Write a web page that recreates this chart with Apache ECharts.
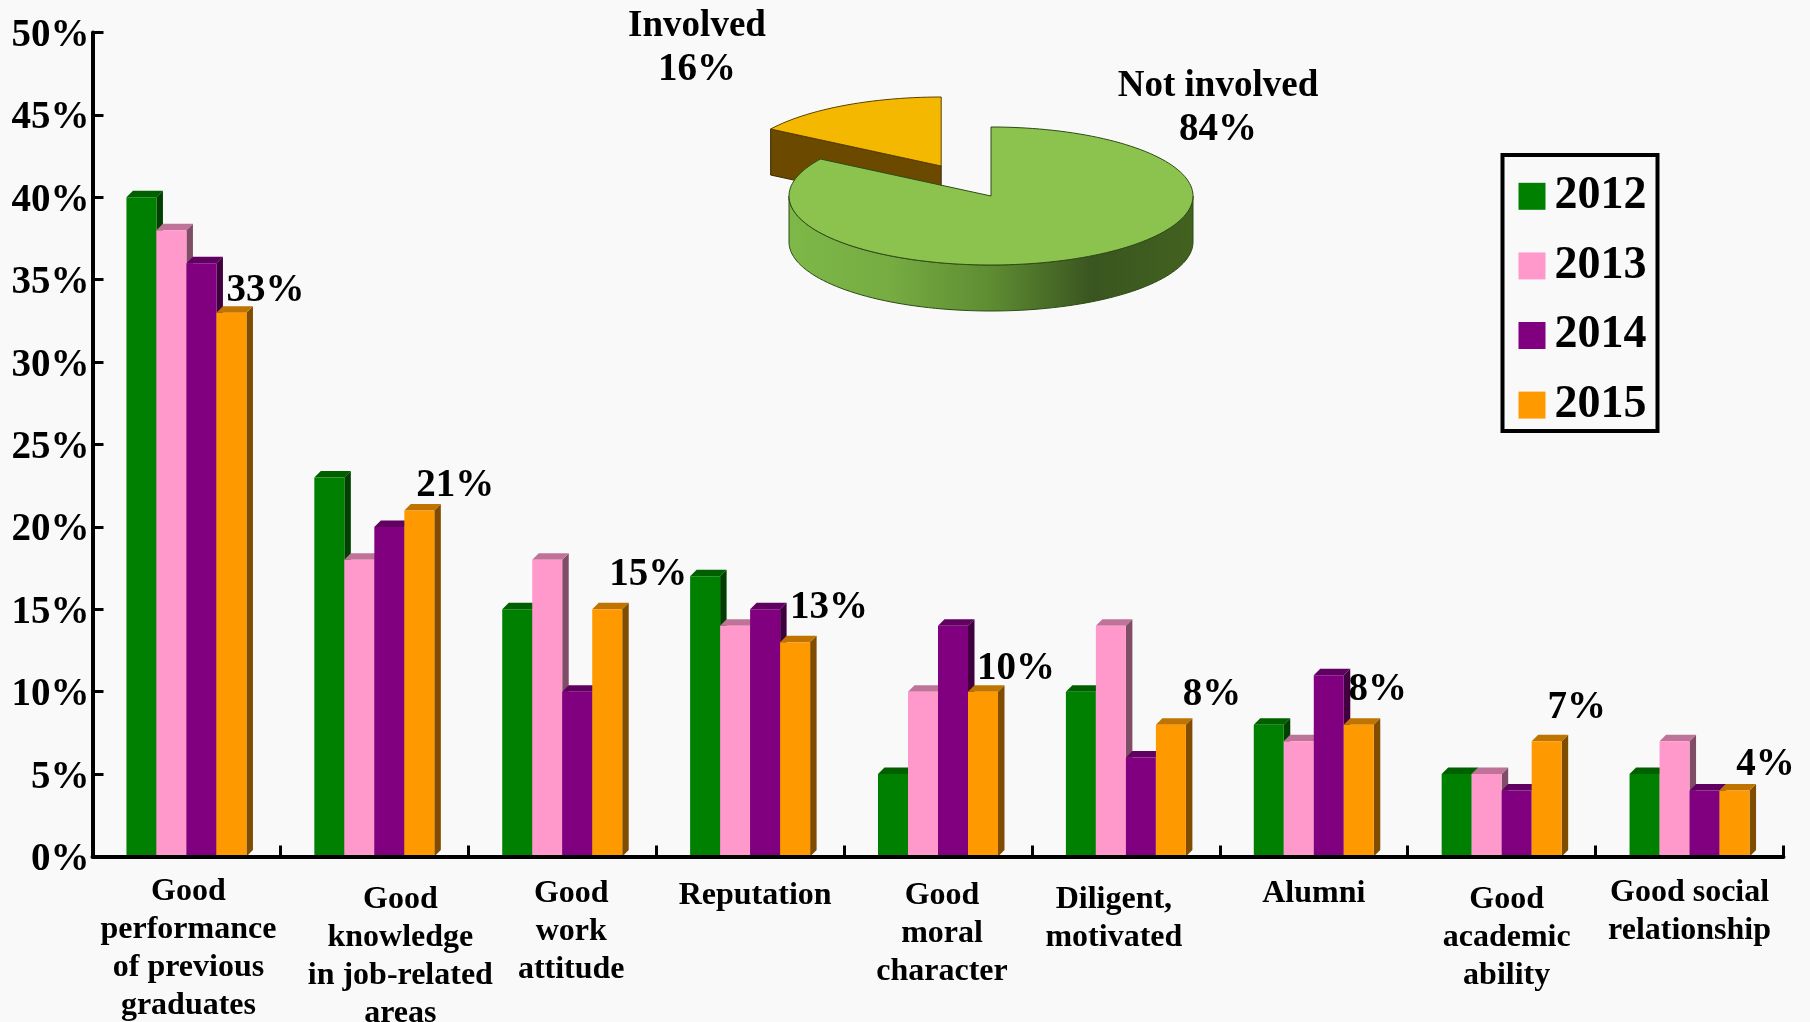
<!DOCTYPE html>
<html><head><meta charset="utf-8">
<style>html,body{margin:0;padding:0;background:#f9f9f9}#c{width:1810px;height:1022px}</style>
<script src="https://cdn.jsdelivr.net/npm/echarts@6/dist/echarts.min.js"></script>
</head><body><div id="c"></div>
<script>
const categories = ['Good\nperformance\nof previous\ngraduates','Good\nknowledge\nin job-related\nareas','Good\nwork\nattitude','Reputation','Good\nmoral\ncharacter','Diligent,\nmotivated','Alumni','Good\nacademic\nability','Good social\nrelationship'];
const years = ['2012','2013','2014','2015'];
const v2012 = [40,23,15,17,5,10,8,5,5];
const v2013 = [38,18,18,14,10,14,7,5,7];
const v2014 = [36,20,10,15,14,6,11,4,4];
const v2015 = [33,21,15,13,10,8,8,7,4];
const pieNames = ['Involved','Not involved'];
const pieValues = [16,84];

// styling / layout (not data)
const FONT = '"Liberation Serif","Times New Roman",serif';
const front = ['#008000','#FF99CC','#800080','#FF9900'];
const topCol = ['#006000','#BF7399','#600060','#BF7300'];
const sideCol = ['#004000','#804D66','#400040','#804D00'];
const BAR = 30, DEPTH = 6.5;
const catShiftX = [2,26,9,5,4,-12,0,5,0];
const catShiftY = [0,8,2,4,4,8,2,8,1];
const labelDX = [34,36,41,34,33,41,19,30,31];
const labelRise = [4,6,16,16,5,12,17,15,8];
const pieLayout = [
  {cx:941.2,cy:166,tx:697,ty:46,top:'#F5B800',cut:'#6B4A00'},
  {cx:991,cy:196,tx:1218,ty:106,top:'#8BC34E'}
];
const RX = 202, RY = 69, PD = 46;

const series = [];
const all = [v2012,v2013,v2014,v2015];
all.forEach((vals,s)=>{
  series.push({
    type:'custom', silent:true, z:1, clip:false,
    data: vals.map((v,i)=>[i,v]), encode:{x:0,y:1},
    renderItem:(p,api)=>{
      const t = api.coord([api.value(0),api.value(1)]);
      const b = api.coord([api.value(0),0]);
      const xl = t[0]+(s-2)*BAR, xr = xl+BAR, y=t[1], y0=b[1];
      return {type:'group',children:[
        {type:'polygon',shape:{points:[[xr,y],[xr+DEPTH,y-DEPTH],[xr+DEPTH,y0-DEPTH],[xr,y0]]},style:{fill:sideCol[s]}},
        {type:'polygon',shape:{points:[[xl,y],[xl+DEPTH,y-DEPTH],[xr+DEPTH,y-DEPTH],[xr,y]]},style:{fill:topCol[s]}}
      ]};
    }
  });
});
all.forEach((vals,s)=>{
  series.push({
    name:years[s], type:'bar', z:2, barWidth:BAR, barGap:0,
    itemStyle:{color:front[s]},
    data: vals.map((v,i)=> s===3 ? {value:v,label:{show:true,position:'top',distance:0,offset:[labelDX[i],-labelRise[i]],formatter:'{c}%',fontFamily:FONT,fontWeight:'bold',fontSize:39,color:'#000',lineHeight:36}} : v)
  });
});
const total = pieValues[0]+pieValues[1];
series.push({
  type:'custom', coordinateSystem:'none', silent:true, z:3,
  data: pieValues,
  renderItem:(p,api)=>{
    const i = p.dataIndex, L = pieLayout[i];
    const share = api.value(0)/total*360;
    const a0 = i===1 ? 0 : 360-share, a1 = i===1 ? share : 360;
    const pt=(deg,dy)=>{const r=deg*Math.PI/180;return [L.cx+RX*Math.sin(r),L.cy-RY*Math.cos(r)+(dy||0)];};
    const arc=(from,to,dy)=>{const o=[];const n=Math.max(2,Math.ceil(Math.abs(to-from)/2));for(let k=0;k<=n;k++)o.push(pt(from+(to-from)*k/n,dy));return o;};
    const kids=[];
    if(i===1){
      kids.push({type:'polygon',shape:{points:arc(90,270).concat(arc(270,90,PD))},
        style:{stroke:'#2f4a16',lineWidth:1,fill:{type:'linear',x:0,y:0,x2:1,y2:0,colorStops:[
          {offset:0,color:'#7DB848'},{offset:.25,color:'#76AC42'},{offset:.5,color:'#5E8C32'},{offset:.75,color:'#3A5520'},{offset:1,color:'#42621F'}]}}});
    } else {
      const e=pt(a0);
      kids.push({type:'polygon',shape:{points:[[L.cx,L.cy],e,[e[0],e[1]+PD],[L.cx,L.cy+PD]]},style:{fill:L.cut,stroke:'#3a2800',lineWidth:1}});
    }
    kids.push({type:'polygon',shape:{points:[[L.cx,L.cy]].concat(arc(a0,a1))},style:{fill:L.top,stroke:i===1?'#2f4a16':'#5a4000',lineWidth:1}});
    kids.push({type:'text',x:L.tx,y:L.ty+2,style:{text:'{n|'+pieNames[i]+'}\n{v|'+Math.round(api.value(0))+'%}',align:'center',verticalAlign:'middle',fontFamily:FONT,fontWeight:'bold',fill:'#000',
      rich:{n:{fontFamily:FONT,fontWeight:'bold',fontSize:37,lineHeight:44,fill:'#000'},v:{fontFamily:FONT,fontWeight:'bold',fontSize:39,lineHeight:44,fill:'#000'}}}});
    return {type:'group',children:kids};
  }
});

const chart = echarts.init(document.getElementById('c'),null,{renderer:'canvas'});
chart.setOption({
  animation:false,
  backgroundColor:'#f9f9f9',
  grid:{left:92.5,right:26.5,top:32.5,height:824,outerBoundsMode:'none'},
  legend:{
    data:years, orient:'vertical', left:1502.5, top:155,
    padding:[18.3,11,3,16], itemWidth:27, itemHeight:27, itemGap:23.6,
    borderColor:'#000', borderWidth:4, icon:'rect',
    textStyle:{fontFamily:FONT,fontWeight:'bold',fontSize:46,color:'#000',padding:[0,0,0,4]},
    selectedMode:false
  },
  xAxis:{
    type:'category', z:5,
    data:categories.map((c,i)=>({value:c,textStyle:{padding:[catShiftY[i],catShiftX[i]<0?-2*catShiftX[i]:0,0,catShiftX[i]>0?2*catShiftX[i]:0]}})),
    axisLine:{show:true,lineStyle:{color:'#000',width:4}},
    axisTick:{show:true,inside:true,length:11,lineStyle:{color:'#000',width:3}},
    axisLabel:{interval:0,margin:16,verticalAlign:'top',align:'center',fontFamily:FONT,fontWeight:'bold',fontSize:32,lineHeight:38,color:'#000'},
    splitLine:{show:false}
  },
  yAxis:{
    type:'value', min:0, max:50, interval:5, z:5,
    axisLine:{show:true,lineStyle:{color:'#000',width:4}},
    axisTick:{show:true,inside:true,length:11,lineStyle:{color:'#000',width:3}},
    axisLabel:{margin:3,formatter:'{a|{value}%}',
      rich:{a:{padding:[7,0,0,0],fontFamily:FONT,fontWeight:'bold',fontSize:39,color:'#000'}}},
    splitLine:{show:false}
  },
  series:series
});
</script></body></html>
